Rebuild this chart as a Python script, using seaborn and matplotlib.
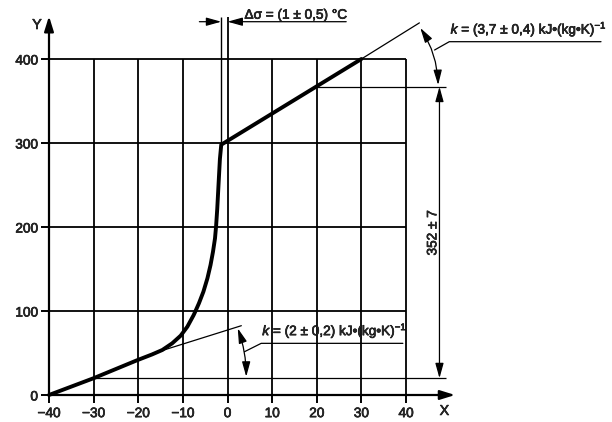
import matplotlib
matplotlib.use("Agg")
import matplotlib.pyplot as plt
import matplotlib.patheffects as pe
import matplotlib.text as mtext
import seaborn as sns

# ---- data ----
x_ticks = [-40, -30, -20, -10, 0, 10, 20, 30, 40]
y_ticks = [0, 100, 200, 300, 400]

# thick curve: heating curve (ice -> melting -> water)
curve_x = [-40, -30, -20.2, -16.9, -14.6, -12.4, -10.5, -9.0, -7.6, -7.3, -6.4, -5.4,
           -4.5, -3.8, -3.25, -2.8, -2.55, -2.3, -2.0, -1.7, -1.4, 30]
curve_y = [0, 20, 41.5, 48.3, 53.6, 61.5, 70.6, 81.3, 95, 98.4, 109.2, 123,
           138.9, 154.8, 170.6, 186.5, 201.5, 221.5, 251.5, 281, 298, 400]

# thin tangent extensions
upper_ext_x = [30, 43]
upper_ext_y = [400, 443]
lower_tan_x = [-17, 3.1]
lower_tan_y = [49.0, 82.5]

# dimension values
dim_low, dim_high = 20, 367
melt_left, melt_right = -1.4, 0

label_upper_k = r"$k$ = (3,7 ± 0,4) kJ•(kg•K)$^{-1}$"
label_lower_k = r"$k$ = (2 ± 0,2) kJ•(kg•K)$^{-1}$"
label_dsigma = "Δσ = (1 ± 0,5) °C"
label_dim = "352 ± 7"

# ---- style ----
sns.set_theme(style="white")
plt.rcParams["font.family"] = ["Liberation Sans", "DejaVu Sans"]
plt.rcParams["mathtext.fontset"] = "custom"
plt.rcParams["mathtext.rm"] = "Liberation Sans"
plt.rcParams["mathtext.it"] = "Liberation Sans:italic"
plt.rcParams["mathtext.bf"] = "Liberation Sans:bold"
plt.rcParams["axes.unicode_minus"] = True

FS = 9.8
PX, PY = 4.4625, 0.84  # pixels per data unit
x_min, x_max = -40, 52
y_min, y_max = 0, 452

fig = plt.figure(figsize=(6.12, 4.22), dpi=100)
ax = fig.add_axes([49 / 612, 27 / 422, (x_max - x_min) * PX / 612, (y_max - y_min) * PY / 422])
ax.set_xlim(x_min, x_max)
ax.set_ylim(y_min, y_max)
for s in ax.spines.values():
    s.set_visible(False)

ax.set_xticks(x_ticks)
ax.set_yticks(y_ticks)
ax.tick_params(axis="both", direction="out", length=6, width=1.4, color="black",
               labelsize=FS, pad=2, bottom=True, left=True)
ax.grid(False)

k = "black"
GW = 1.3
# grid
ax.vlines([v for v in x_ticks[1:] if v != 0], 0, y_ticks[-1], color=k, lw=GW)
ax.vlines(0, 0, 450, color=k, lw=GW, clip_on=False)
ax.hlines(y_ticks[1:], x_ticks[0], x_ticks[-1], color=k, lw=GW)

# axes with arrows
arrow_ax = dict(arrowstyle="-|>,head_length=0.9,head_width=0.28", color=k, lw=1.6,
                shrinkA=0, shrinkB=0, mutation_scale=10)
ax.annotate("", xy=(x_min, 451), xytext=(x_min, 0), arrowprops=arrow_ax, annotation_clip=False)
ax.annotate("", xy=(51, 0), xytext=(x_min, 0), arrowprops=arrow_ax, annotation_clip=False)
ax.text(-42.7, 440.5, "Y", ha="center", va="center", fontsize=FS + 0.5)
ax.text(48.6, -19, "X", ha="center", va="center", fontsize=FS + 0.5)

# curves
sns.lineplot(x=curve_x, y=curve_y, sort=False, estimator=None, color=k, lw=2.8, ax=ax)
sns.lineplot(x=upper_ext_x, y=upper_ext_y, sort=False, estimator=None, color=k, lw=0.9, ax=ax)
sns.lineplot(x=lower_tan_x, y=lower_tan_y, sort=False, estimator=None, color=k, lw=0.9, ax=ax)
for ln in ax.get_lines():
    ln.set_clip_on(False)
    ln.set_solid_joinstyle("round")

# extension lines for the 352 dimension
ax.hlines(dim_high, 20, 49, color=k, lw=0.9, clip_on=False)
ax.hlines(dim_low, -30, 49, color=k, lw=0.9, clip_on=False)
arr2 = dict(arrowstyle="<|-|>,head_length=0.9,head_width=0.25", color=k, lw=0.9,
            shrinkA=0, shrinkB=0, mutation_scale=10)
ax.annotate("", xy=(47.5, dim_high), xytext=(47.5, dim_low), arrowprops=arr2, annotation_clip=False)
ax.text(45.9, 193, label_dim, rotation=90, ha="center", va="center", fontsize=FS)

# upper k: arc + leader + text
arc_u = dict(arr2, connectionstyle="arc3,rad=-0.14")
ax.annotate("", xy=(47.2, 369), xytext=(43.2, 437), arrowprops=arc_u, annotation_clip=False)
ax.plot([46.4, 49.7, 83.7], [410.7, 420.6, 420.6], color=k, lw=0.9, clip_on=False)
ax.text(50.0, 423, label_upper_k, ha="left", va="bottom", fontsize=FS)

# lower k: arc + leader + text
arc_l = dict(arr2, connectionstyle="arc3,rad=-0.085")
ax.annotate("", xy=(4.2, 21.8), xytext=(2.3, 79.4), arrowprops=arc_l, annotation_clip=False)
ax.plot([3.8, 7.55, 39.3], [51.5, 61.5, 61.5], color=k, lw=0.9, clip_on=False)
ax.text(7.8, 64, label_lower_k, ha="left", va="bottom", fontsize=FS)

# delta sigma
ax.vlines(melt_left, 298, 450, color=k, lw=1.0, clip_on=False)
arr1 = dict(arrowstyle="-|>,head_length=0.9,head_width=0.25", color=k, lw=0.9,
            shrinkA=0, shrinkB=0, mutation_scale=10)
ax.annotate("", xy=(melt_left, 444.4), xytext=(-6.3, 444.4), arrowprops=arr1, annotation_clip=False)
ax.annotate("", xy=(melt_right, 444.4), xytext=(26.6, 444.4), arrowprops=arr1, annotation_clip=False)
ax.text(3.8, 448, label_dsigma, ha="left", va="baseline", fontsize=FS)

# slightly heavier text, like the scanned original
for t in fig.findobj(mtext.Text):
    t.set_path_effects([pe.withStroke(linewidth=0.45, foreground="black")])

fig.savefig("out.png", dpi=100)
